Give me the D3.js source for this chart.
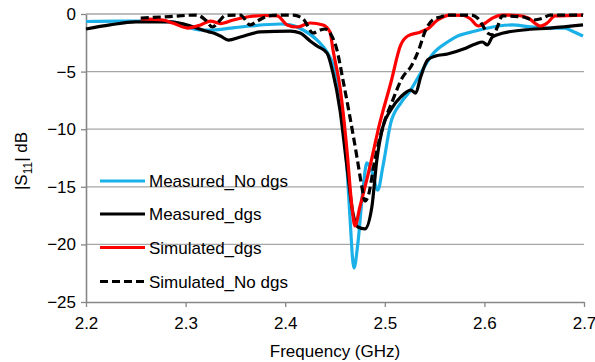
<!DOCTYPE html>
<html>
<head>
<meta charset="utf-8">
<script src="https://cdn.jsdelivr.net/npm/d3@7"></script>
<style>
  body { margin: 0; background: #fff; }
  text { font-family: Arial, "Liberation Sans", sans-serif; fill: #000; }
</style>
</head>
<body>
<div id="chart"></div>
<script>
// frequency (GHz) and |S11| (dB) for each trace
const measNoDgsF = [2.200, 2.234, 2.264, 2.287, 2.302, 2.315, 2.328, 2.345, 2.365, 2.395, 2.405, 2.418, 2.432, 2.442, 2.452, 2.457, 2.462, 2.465, 2.469, 2.473, 2.478, 2.482, 2.487, 2.493, 2.498, 2.506, 2.516, 2.526, 2.536, 2.549, 2.563, 2.571, 2.591, 2.614, 2.628, 2.644, 2.664, 2.681, 2.688, 2.699];
const measNoDgsDb = [-0.65, -0.61, -0.61, -0.69, -1.13, -1.39, -1.39, -1.22, -1.04, -0.87, -0.95, -1.39, -2.26, -3.30, -5.47, -8.07, -13.28, -17.62, -22.05, -19.88, -15.28, -12.93, -13.7, -15.28, -13.28, -9.46, -7.73, -6.60, -5.12, -3.39, -2.43, -2.0, -1.48, -1.04, -0.95, -1.09, -1.22, -1.22, -1.48, -1.91];

const measDgsF = [2.200, 2.224, 2.250, 2.284, 2.305, 2.320, 2.328, 2.335, 2.343, 2.355, 2.375, 2.405, 2.415, 2.425, 2.432, 2.442, 2.448, 2.455, 2.462, 2.468, 2.473, 2.480, 2.487, 2.492, 2.498, 2.506, 2.516, 2.526, 2.531, 2.536, 2.543, 2.551, 2.563, 2.579, 2.591, 2.598, 2.603, 2.608, 2.619, 2.639, 2.666, 2.699];
const measDgsDb = [-1.30, -0.95, -0.69, -0.69, -1.04, -1.48, -1.65, -1.91, -2.26, -2.0, -1.56, -1.48, -1.65, -2.34, -2.78, -3.39, -5.12, -8.33, -13.28, -17.27, -18.49, -18.66, -16.75, -12.67, -9.81, -8.33, -7.20, -6.60, -6.86, -5.47, -3.99, -3.65, -3.47, -3.04, -2.6, -2.43, -2.69, -2.0, -1.65, -1.39, -1.22, -0.95];

const simDgsF = [2.255, 2.277, 2.287, 2.302, 2.315, 2.325, 2.335, 2.348, 2.365, 2.380, 2.392, 2.402, 2.412, 2.425, 2.438, 2.445, 2.448, 2.455, 2.462, 2.467, 2.470, 2.475, 2.485, 2.495, 2.506, 2.516, 2.523, 2.536, 2.543, 2.553, 2.566, 2.579, 2.586, 2.594, 2.601, 2.608, 2.618, 2.634, 2.644, 2.656, 2.663, 2.671, 2.699];
const simDgsDb = [-0.43, -0.52, -0.78, -1.22, -0.95, -0.61, -0.83, -0.52, -0.22, -0.13, -0.17, -0.95, -1.13, -0.78, -0.95, -1.56, -3.13, -6.34, -11.81, -16.75, -18.4, -16.75, -13.28, -9.46, -5.99, -2.69, -1.91, -1.56, -1.30, -0.52, -0.09, -0.13, -0.43, -1.04, -0.78, -0.35, -0.09, -0.13, -0.35, -1.04, -0.78, -0.17, -0.09];

const simNoDgsF = [2.255, 2.284, 2.311, 2.320, 2.327, 2.333, 2.340, 2.355, 2.365, 2.372, 2.383, 2.395, 2.408, 2.418, 2.428, 2.435, 2.440, 2.445, 2.452, 2.458, 2.465, 2.472, 2.477, 2.480, 2.483, 2.490, 2.498, 2.508, 2.518, 2.526, 2.534, 2.541, 2.548, 2.556, 2.563, 2.586, 2.593, 2.598, 2.603, 2.609, 2.613, 2.618, 2.639, 2.649, 2.659, 2.666, 2.699];
const simNoDgsDb = [-0.35, -0.22, -0.09, -0.52, -1.13, -0.69, -0.13, -0.09, -0.95, -0.61, -0.17, -0.09, -0.09, -0.43, -1.65, -1.39, -1.30, -1.65, -3.13, -5.73, -8.94, -12.41, -15.02, -16.23, -15.89, -12.67, -9.81, -7.47, -5.47, -4.60, -3.13, -1.39, -0.52, -0.26, -0.09, -0.09, -0.35, -0.95, -1.65, -1.82, -1.13, -0.17, -0.26, -0.52, -0.35, -0.09, -0.09];

const xTicks = [2.2, 2.3, 2.4, 2.5, 2.6, 2.7];
const yTicks = [0, -5, -10, -15, -20, -25];

const series = [
  { name: 'Measured_No dgs', f: measNoDgsF, db: measNoDgsDb, color: '#1ab0e8', dash: null },
  { name: 'Measured_dgs', f: measDgsF, db: measDgsDb, color: '#000000', dash: null },
  { name: 'Simulated_dgs', f: simDgsF, db: simDgsDb, color: '#ff0000', dash: null },
  { name: 'Simulated_No dgs', f: simNoDgsF, db: simNoDgsDb, color: '#000000', dash: '8,4' },
];

const width = 595;
const height = 362;
const margin = { left: 86, top: 14, right: 11, bottom: 60 };

const svg = d3.select('#chart')
  .append('svg')
  .attr('width', width)
  .attr('height', height);

const x = d3.scaleLinear()
  .domain([2.2, 2.7])
  .range([margin.left, width - margin.right]);

const y = d3.scaleLinear()
  .domain([-25, 0])
  .range([height - margin.bottom, margin.top]);

// horizontal gridlines
svg.append('g')
  .selectAll('line')
  .data(yTicks.filter((d) => d !== -25))
  .enter()
    .append('line')
    .attr('x1', x(2.2))
    .attr('x2', x(2.7))
    .attr('y1', (d) => y(d))
    .attr('y2', (d) => y(d))
    .attr('stroke', '#a6a6a6')
    .attr('stroke-width', 1.3);

const yAxis = d3.axisLeft(y)
  .tickValues(yTicks)
  .tickSizeInner(5)
  .tickSizeOuter(0)
  .tickPadding(5)
  .tickFormat(d3.format('d'));

const xAxis = d3.axisBottom(x)
  .tickValues(xTicks)
  .tickSizeInner(5)
  .tickSizeOuter(0)
  .tickPadding(10)
  .tickFormat(d3.format('.1f'));

const gy = svg.append('g')
  .attr('transform', `translate(${margin.left},0)`)
  .call(yAxis);

const gx = svg.append('g')
  .attr('transform', `translate(0,${height - margin.bottom})`)
  .call(xAxis);

[gx, gy].forEach((g) => {
  g.select('.domain').attr('stroke', '#878787').attr('stroke-width', 1.6);
  g.selectAll('.tick line').attr('stroke', '#878787').attr('stroke-width', 1.3);
  g.selectAll('.tick text')
    .attr('font-size', 17)
    .attr('font-family', 'Arial, "Liberation Sans", sans-serif')
    .attr('fill', '#000');
});

const line = d3.line()
  .curve(d3.curveMonotoneX)
  .x((d) => x(d[0]))
  .y((d) => y(d[1]));

svg.append('g')
  .selectAll('path')
  .data(series)
  .enter()
    .append('path')
    .attr('fill', 'none')
    .attr('stroke', (d) => d.color)
    .attr('stroke-width', 3.2)
    .attr('stroke-linejoin', 'round')
    .attr('stroke-dasharray', (d) => d.dash)
    .attr('d', (d) => line(d.f.map((f, i) => [f, d.db[i]])));

// axis titles
svg.append('text')
  .attr('text-anchor', 'middle')
  .attr('font-size', 17)
  .attr('x', (x(2.2) + x(2.7)) / 2)
  .attr('y', 357)
  .text('Frequency (GHz)');

const yTitle = svg.append('text')
  .attr('text-anchor', 'middle')
  .attr('font-size', 17)
  .attr('transform', 'translate(27,161) rotate(-90)');
yTitle.append('tspan').text('|S');
yTitle.append('tspan').attr('font-size', 12).attr('dy', 5).text('11');
yTitle.append('tspan').attr('dy', -5).text('| dB');

// legend
const legendY = [181, 214, 247.5, 281.5];
const legend = svg.append('g')
  .selectAll('g')
  .data(series)
  .enter()
    .append('g')
    .attr('transform', (d, i) => `translate(100,${legendY[i]})`);

legend.append('line')
  .attr('x1', 0)
  .attr('x2', 45)
  .attr('stroke', (d) => d.color)
  .attr('stroke-width', 3.2)
  .attr('stroke-dasharray', (d) => d.dash);

legend.append('text')
  .attr('x', 49)
  .attr('y', 6)
  .attr('font-size', 17)
  .text((d) => d.name);
</script>
</body>
</html>
